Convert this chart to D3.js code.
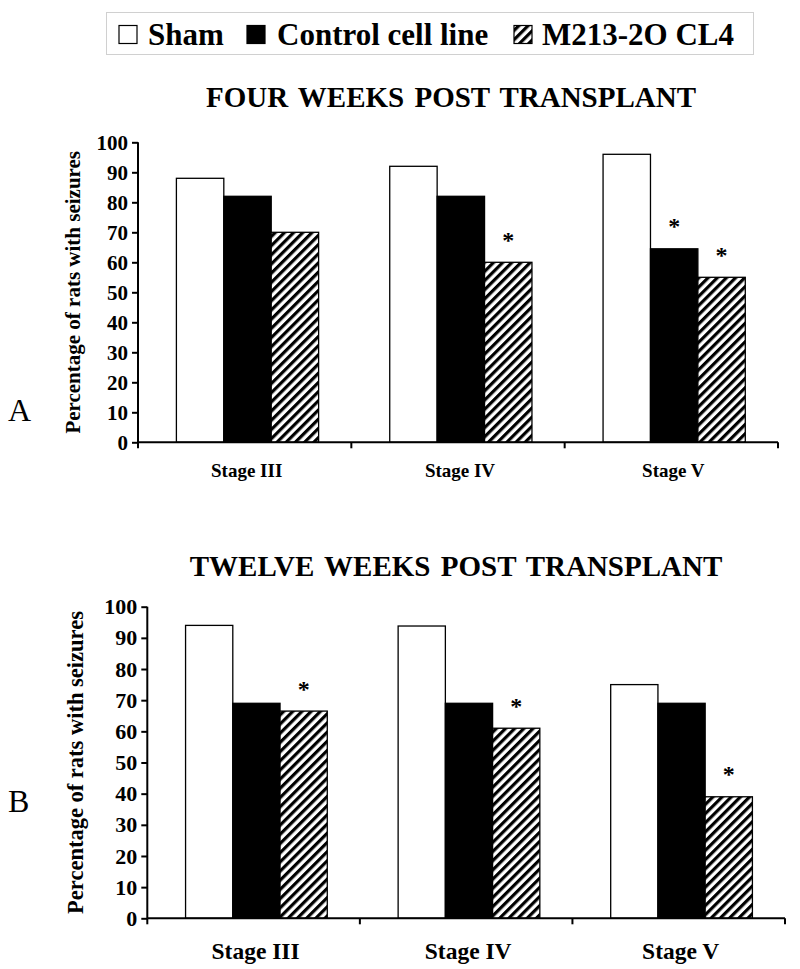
<!DOCTYPE html>
<html>
<head>
<meta charset="utf-8">
<script src="https://cdn.jsdelivr.net/npm/d3@7"></script>
<style>
  html, body { margin: 0; padding: 0; background: #fff; }
  svg text { font-family: "Liberation Serif", "Times New Roman", serif; }
</style>
</head>
<body>
<svg id="chart" width="800" height="969"></svg>
<script>
// ---- data ----
const categories = ["Stage III", "Stage IV", "Stage V"];
const seriesNames = ["Sham", "Control cell line", "M213-2O CL4"];
const yTickValues = [0, 10, 20, 30, 40, 50, 60, 70, 80, 90, 100];

const fourWeeksSham = [88, 92, 96];
const fourWeeksControl = [82, 82, 64.5];
const fourWeeksM213 = [70, 60, 55];
const fourWeeksSigControl = [false, false, true];
const fourWeeksSigM213 = [false, true, true];

const twelveWeeksSham = [94, 93.8, 75];
const twelveWeeksControl = [69, 69, 69];
const twelveWeeksM213 = [66.5, 61, 39];
const twelveWeeksSigControl = [false, false, false];
const twelveWeeksSigM213 = [true, true, true];

const yLabelText = "Percentage of rats with seizures";

// ---- drawing ----
const svg = d3.select("#chart");
const defs = svg.append("defs");
const pat = defs.append("pattern")
  .attr("id", "hatch")
  .attr("patternUnits", "userSpaceOnUse")
  .attr("width", 6.5).attr("height", 6.5)
  .attr("patternTransform", "rotate(45)");
pat.append("rect").attr("width", 6.5).attr("height", 6.5).attr("fill", "#fff");
pat.append("line").attr("x1", 1.6).attr("y1", 0).attr("x2", 1.6).attr("y2", 6.5)
  .attr("stroke", "#000").attr("stroke-width", 3.2);

const fills = ["#fff", "#000", "url(#hatch)"];

// legend
const lg = svg.append("g");
lg.append("rect").attr("x", 106.5).attr("y", 12.5).attr("width", 647).attr("height", 42)
  .attr("fill", "#fff").attr("stroke", "#d0d0d0").attr("stroke-width", 1);
const legendItems = [
  { sx: 119, tx: 148 },
  { sx: 247, tx: 277 },
  { sx: 514, tx: 542 }
];
seriesNames.forEach((name, i) => {
  lg.append("rect").attr("x", legendItems[i].sx).attr("y", 25.5)
    .attr("width", 18).attr("height", 18)
    .attr("fill", fills[i]).attr("stroke", "#000").attr("stroke-width", 1.2);
  lg.append("text").attr("x", legendItems[i].tx).attr("y", 44.5)
    .attr("font-size", 31).attr("font-weight", "bold").text(name);
});

function drawPanel(cfg) {
  const g = svg.append("g");
  const x = d3.scaleBand().domain(categories).range([cfg.x0, cfg.x1]).padding(0);
  const xs = d3.scaleBand().domain(seriesNames).range([0, x.bandwidth()])
    .paddingInner(0).paddingOuter(0.75).align(0.54);
  const y = d3.scaleLinear().domain([0, 100]).range([cfg.yb, cfg.yt]);

  const values = [cfg.sham, cfg.control, cfg.m213];
  const sig = [categories.map(() => false), cfg.sigControl, cfg.sigM213];

  seriesNames.forEach((s, si) => {
    g.selectAll(null).data(categories).enter().append("rect")
      .attr("x", c => x(c) + xs(s))
      .attr("y", (c, ci) => y(values[si][ci]))
      .attr("width", xs.bandwidth())
      .attr("height", (c, ci) => cfg.yb - y(values[si][ci]))
      .attr("fill", fills[si])
      .attr("stroke", "#000").attr("stroke-width", 1.3);
    g.selectAll(null).data(categories.filter((c, ci) => sig[si][ci])).enter().append("text")
      .attr("x", c => x(c) + xs(s) + xs.bandwidth() / 2)
      .attr("y", c => y(values[si][categories.indexOf(c)]) - 14.5)
      .attr("text-anchor", "middle").attr("font-size", 24).attr("font-weight", "bold")
      .text("*");
  });

  // y axis
  const ya = g.append("g").attr("transform", `translate(${cfg.x0},0)`)
    .call(d3.axisLeft(y).tickValues(yTickValues).tickSize(6).tickPadding(4));
  ya.select(".domain").attr("stroke-width", 2).attr("d", `M0,${cfg.yt}V${cfg.yb}`);
  ya.selectAll(".tick line").attr("stroke-width", 2);
  ya.selectAll(".tick text").attr("font-size", cfg.tickSize).attr("font-weight", "bold")
    .attr("font-family", "Liberation Serif, serif").attr("fill", "#000");

  // x axis line + boundary ticks
  g.append("line").attr("x1", cfg.x0).attr("x2", cfg.x1).attr("y1", cfg.yb).attr("y2", cfg.yb)
    .attr("stroke", "#000").attr("stroke-width", 2);
  const bounds = categories.map(c => x(c)).concat([cfg.x1]);
  g.selectAll(null).data(bounds).enter().append("line")
    .attr("x1", d => d).attr("x2", d => d).attr("y1", cfg.yb).attr("y2", cfg.yb + 6)
    .attr("stroke", "#000").attr("stroke-width", 2);
  g.selectAll(null).data(categories).enter().append("text")
    .attr("x", c => x(c) + x.bandwidth() / 2 + 2)
    .attr("y", cfg.xLabelY)
    .attr("text-anchor", "middle").attr("font-size", cfg.xLabelSize).attr("font-weight", "bold")
    .text(c => c);

  // y label
  g.append("text")
    .attr("transform", `translate(${cfg.yLabelX},${(cfg.yt + cfg.yb) / 2}) rotate(-90)`)
    .attr("text-anchor", "middle").attr("font-size", cfg.yLabelSize).attr("font-weight", "bold")
    .text(yLabelText);

  // title
  g.append("text").attr("x", cfg.titleX).attr("y", cfg.titleY)
    .attr("text-anchor", "middle").attr("font-size", 29).attr("font-weight", "bold")
    .attr("word-spacing", 3)
    .text(cfg.title);

  // panel letter
  g.append("text").attr("x", 8).attr("y", cfg.letterY)
    .attr("font-size", 32).text(cfg.letter);
}

drawPanel({
  x0: 138, x1: 778, yt: 142.3, yb: 442.3,
  sham: fourWeeksSham, control: fourWeeksControl, m213: fourWeeksM213,
  sigControl: fourWeeksSigControl, sigM213: fourWeeksSigM213,
  tickSize: 21, xLabelY: 477, xLabelSize: 19, yLabelX: 80, yLabelSize: 21,
  title: "FOUR WEEKS POST TRANSPLANT", titleX: 451, titleY: 107,
  letter: "A", letterY: 421
});

drawPanel({
  x0: 147.3, x1: 785, yt: 606.7, yb: 918.3,
  sham: twelveWeeksSham, control: twelveWeeksControl, m213: twelveWeeksM213,
  sigControl: twelveWeeksSigControl, sigM213: twelveWeeksSigM213,
  tickSize: 22, xLabelY: 959, xLabelSize: 23.5, yLabelX: 83, yLabelSize: 22.5,
  title: "TWELVE WEEKS POST TRANSPLANT", titleX: 456, titleY: 576,
  letter: "B", letterY: 812
});
</script>
</body>
</html>
